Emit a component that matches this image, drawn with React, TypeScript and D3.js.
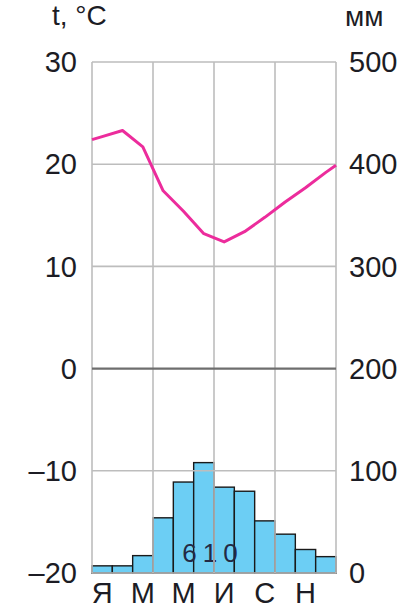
import React from 'react';
import * as d3 from 'd3';

// month labels (every second month shown)
const monthLabels = ['Я', '', 'М', '', 'М', '', 'И', '', 'С', '', 'Н', ''];
// mean monthly temperature, °C
const temps = [22.7, 23.3, 21.7, 17.4, 15.4, 13.2, 12.4, 13.4, 14.8, 16.3, 17.7, 19.2];
const tempStart = 22.4;
const tempEnd = 19.9;
// monthly precipitation, mm
const precip = [7, 7, 17, 54, 89, 108, 84, 80, 51, 38, 23, 16];
const annualPrecip = '610';
const tempTicks = [30, 20, 10, 0, -10, -20];
const precipTicks = [500, 400, 300, 200, 100, 0];
const gridMonths = [0, 3, 6, 9, 12];

const W = 408;
const H = 608;
const margin = { top: 62, right: 72, bottom: 35, left: 92 };

const fmt = (v: number) => (v < 0 ? '–' + Math.abs(v) : String(v));

const App = () => {
    const x = d3.scaleLinear().domain([0, 12]).range([margin.left, W - margin.right]);
    const yT = d3.scaleLinear().domain([-20, 30]).range([H - margin.bottom, margin.top]);
    const yP = d3.scaleLinear().domain([0, 500]).range([H - margin.bottom, margin.top]);

    const linePts: [number, number][] = [
        [0, tempStart],
        ...temps.map((t, i) => [i + 0.5, t] as [number, number]),
        [12, tempEnd],
    ];
    const line = d3.line<[number, number]>()
        .x(d => x(d[0]))
        .y(d => yT(d[1]));

    const font = '"Liberation Sans", Arial, sans-serif';
    const textColor = '#1c1c24';

    return (
        <svg width={W} height={H} style={{ position: 'absolute', left: 0, top: 0 }}
            fontFamily={font}>
            <rect width={W} height={H} fill="#fff" />

            {/* precipitation bars */}
            {precip.map((p, i) => (
                <rect key={i}
                    x={x(i)} y={yP(p)}
                    width={x(i + 1) - x(i)} height={yP(0) - yP(p)}
                    fill="#6ccef4" stroke="#1a1a1a" strokeWidth={1.4} />
            ))}

            <text x={x(6) - 1} y={562} textAnchor="middle" fontSize={26}
                letterSpacing={6} fill="#232a45">{annualPrecip}</text>

            {/* grid */}
            {tempTicks.filter(t => t !== 0).map(t => (
                <line key={t} x1={x(0)} x2={x(12)} y1={yT(t)} y2={yT(t)}
                    stroke="#bdbdbd" strokeWidth={1.6} />
            ))}
            {gridMonths.map(m => (
                <line key={m} x1={x(m)} x2={x(m)} y1={yT(30)} y2={yT(-20)}
                    stroke="#bdbdbd" strokeWidth={1.6} />
            ))}
            <line x1={x(0)} x2={x(12)} y1={yT(0)} y2={yT(0)} stroke="#6e6e6e" strokeWidth={2.2} />

            {/* temperature line */}
            <path d={line(linePts) || ''} fill="none" stroke="#ec2c9c" strokeWidth={3}
                strokeLinejoin="round" />

            {/* axis labels */}
            {tempTicks.map(t => (
                <text key={t} x={77} y={yT(t)} dy="0.35em" textAnchor="end"
                    fontSize={29} fill={textColor}>{fmt(t)}</text>
            ))}
            {precipTicks.map(p => (
                <text key={p} x={349} y={yP(p)} dy="0.35em" textAnchor="start"
                    fontSize={29} fill={textColor}>{p}</text>
            ))}
            {monthLabels.map((m, i) => m && (
                <text key={i} x={x(i + 0.5)} y={603} textAnchor="middle"
                    fontSize={29} fill={textColor}>{m}</text>
            ))}

            <text x={52} y={25} fontSize={28} fill={textColor}>t, °C</text>
            <text x={345} y={26} fontSize={28} fill={textColor}>мм</text>
        </svg>
    );
};

export default App;
